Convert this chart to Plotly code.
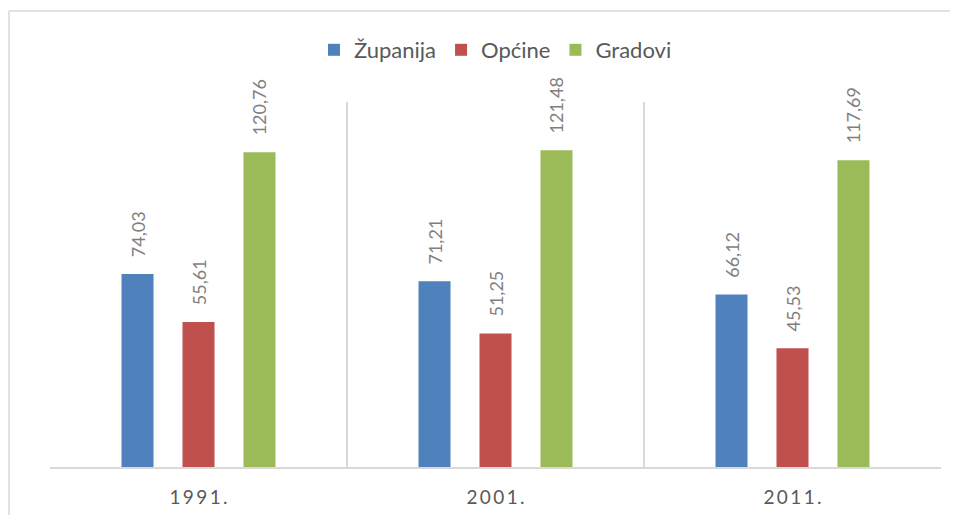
import plotly.graph_objects as go

categories = ["1991.", "2001.", "2011."]
zupanija = [74.03, 71.21, 66.12]
opcine = [55.61, 51.25, 45.53]
gradovi = [120.76, 121.48, 117.69]
series_names = ["Županija", "Općine", "Gradovi"]
colors = ["#4f81bd", "#c0504d", "#9bbb59"]

def fmt(v):
    return "\u00a0\u00a0\u00a0" + f"{v:.2f}".replace(".", ",")

def spaced(s):
    return "\u2009".join(s)

fig = go.Figure()
for name, vals, col in zip(series_names, [zupanija, opcine, gradovi], colors):
    fig.add_trace(go.Bar(
        x=categories, y=vals, name=name,
        marker=dict(color=col, line=dict(width=0)),
        text=[fmt(v) for v in vals],
        textposition="outside", textangle=-90, constraintext="none",
        textfont=dict(family="Lato", size=18, color="#7f7f7f"),
        cliponaxis=False,
    ))

# page body has an 8px margin, so the figure is drawn 8px in from the window edge
OFF = 8
W, H = 958 - OFF, 515 - OFF
L, R, T, B = 50 - OFF, 17, 102 - OFF, 48
pw, ph = W - L - R, H - T - B
bx = (9 - OFF - L) / pw
by = (H - B - (11 - OFF)) / ph

fig.update_layout(
    width=W, height=H,
    margin=dict(l=L, r=R, t=T, b=B, autoexpand=False),
    paper_bgcolor="white", plot_bgcolor="white",
    barmode="group", bargap=0.384, bargroupgap=0.475,
    showlegend=True,
    legend=dict(orientation="h", x=0.5, xanchor="center", y=(H - B - (50 - OFF)) / ph,
                yanchor="middle", font=dict(family="Lato", size=22, color="#595959"),
                itemclick=False),
    xaxis=dict(
        type="category", range=[-0.5, 2.5], tickson="boundaries", automargin=False,
        showgrid=True, gridcolor="#d9d9d9", gridwidth=1.5,
        showline=True, linecolor="#d9d9d9", linewidth=2,
        ticks="", ticklabelstandoff=12,
        tickvals=categories, ticktext=[spaced(c) for c in categories],
        tickfont=dict(family="Lato", size=19, color="#595959"),
    ),
    yaxis=dict(range=[0, 140], showgrid=False, showticklabels=False, automargin=False,
               zeroline=False, showline=False),
    shapes=[
        dict(type="line", xref="paper", yref="paper", x0=bx, x1=bx, y0=-1, y1=by,
             line=dict(color="#d9d9d9", width=1.5)),
        dict(type="line", xref="paper", yref="paper", x0=bx, x1=1.2, y0=by, y1=by,
             line=dict(color="#d9d9d9", width=1.5)),
    ],
)

fig.write_html("out.html")
